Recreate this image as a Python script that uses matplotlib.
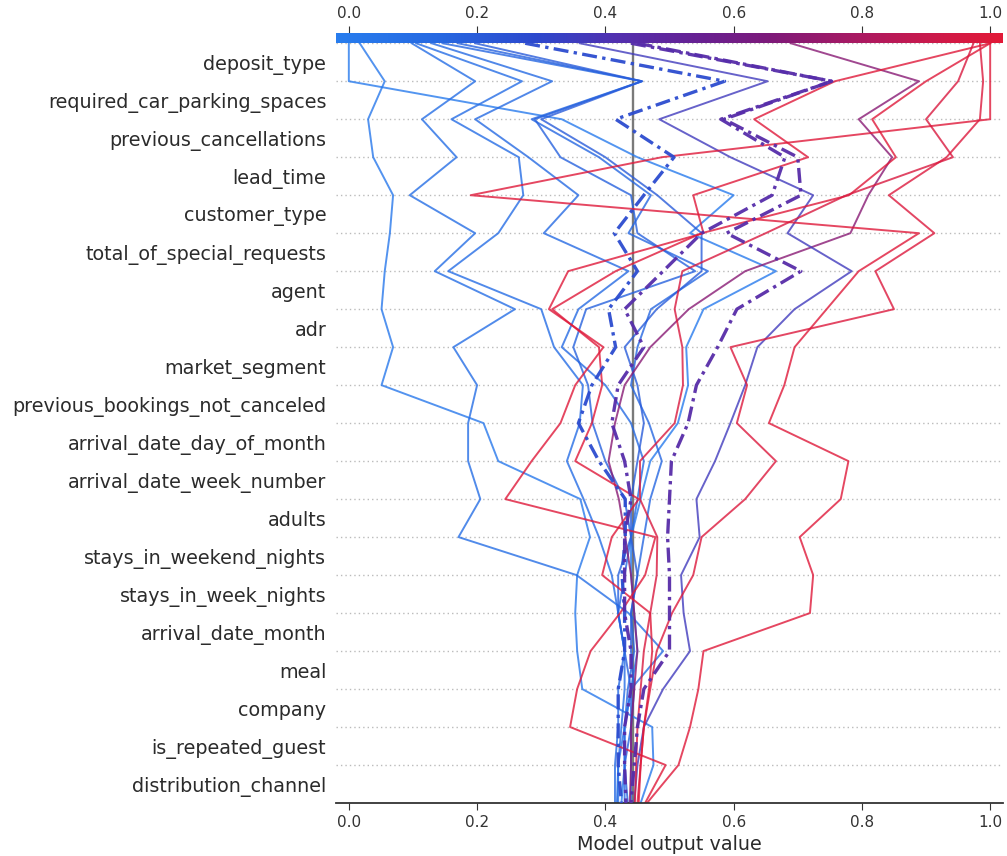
import numpy as np
import matplotlib
matplotlib.use("Agg")
import matplotlib.pyplot as plt
from matplotlib.colors import LinearSegmentedColormap, Normalize

# ---------------- data ----------------
features = ["deposit_type", "required_car_parking_spaces", "previous_cancellations",
            "lead_time", "customer_type", "total_of_special_requests", "agent", "adr",
            "market_segment", "previous_bookings_not_canceled", "arrival_date_day_of_month",
            "arrival_date_week_number", "adults", "stays_in_weekend_nights",
            "stays_in_week_nights", "arrival_date_month", "meal", "company",
            "is_repeated_guest", "distribution_channel"]

base_value = 0.443
x_ticks = [0.0, 0.2, 0.4, 0.6, 0.8, 1.0]

# cumulative model output at each feature boundary, listed from the top (final output) to the bottom
obs_b1 = [0.000, 0.000, 0.332, 0.450, 0.600, 0.532, 0.666, 0.553, 0.526, 0.529, 0.513, 0.470, 0.455, 0.440, 0.440, 0.445, 0.450, 0.440, 0.430, 0.430, 0.425]
obs_b2 = [0.017, 0.056, 0.030, 0.038, 0.069, 0.064, 0.056, 0.051, 0.069, 0.051, 0.210, 0.233, 0.361, 0.376, 0.356, 0.353, 0.356, 0.364, 0.473, 0.475, 0.455]
obs_b3 = [0.098, 0.197, 0.114, 0.168, 0.095, 0.197, 0.134, 0.259, 0.163, 0.200, 0.186, 0.186, 0.205, 0.171, 0.355, 0.436, 0.490, 0.440, 0.430, 0.420, 0.420]
obs_b4 = [0.105, 0.270, 0.160, 0.265, 0.272, 0.233, 0.155, 0.300, 0.320, 0.365, 0.360, 0.340, 0.366, 0.390, 0.410, 0.420, 0.430, 0.430, 0.425, 0.420, 0.418]
obs_b5 = [0.129, 0.317, 0.197, 0.280, 0.358, 0.304, 0.436, 0.358, 0.332, 0.400, 0.440, 0.460, 0.450, 0.440, 0.430, 0.420, 0.430, 0.420, 0.420, 0.415, 0.415]
obs_b6 = [0.146, 0.457, 0.285, 0.390, 0.471, 0.436, 0.560, 0.471, 0.450, 0.440, 0.468, 0.488, 0.470, 0.460, 0.450, 0.440, 0.445, 0.435, 0.430, 0.430, 0.430]
obs_b7 = [0.170, 0.457, 0.290, 0.330, 0.440, 0.450, 0.540, 0.370, 0.350, 0.373, 0.380, 0.400, 0.430, 0.440, 0.420, 0.420, 0.430, 0.440, 0.440, 0.430, 0.435]
obs_b8 = [0.197, 0.457, 0.300, 0.400, 0.481, 0.550, 0.550, 0.480, 0.430, 0.450, 0.460, 0.450, 0.440, 0.440, 0.450, 0.440, 0.440, 0.445, 0.440, 0.440, 0.440]
obs_d1 = [0.275, 0.586, 0.416, 0.507, 0.460, 0.414, 0.450, 0.405, 0.416, 0.379, 0.358, 0.390, 0.431, 0.431, 0.426, 0.430, 0.430, 0.420, 0.420, 0.420, 0.425]
obs_d2 = [0.450, 0.753, 0.585, 0.700, 0.705, 0.589, 0.705, 0.605, 0.575, 0.542, 0.529, 0.503, 0.500, 0.497, 0.500, 0.500, 0.500, 0.460, 0.450, 0.445, 0.440]
obs_d3 = [0.440, 0.753, 0.580, 0.680, 0.660, 0.550, 0.490, 0.430, 0.460, 0.420, 0.410, 0.430, 0.440, 0.430, 0.430, 0.430, 0.440, 0.440, 0.430, 0.430, 0.432]
obs_p1 = [0.689, 0.889, 0.795, 0.847, 0.810, 0.782, 0.618, 0.530, 0.470, 0.430, 0.415, 0.405, 0.421, 0.431, 0.440, 0.445, 0.450, 0.445, 0.440, 0.440, 0.438]
obs_p2 = [0.360, 0.653, 0.484, 0.595, 0.724, 0.684, 0.784, 0.695, 0.637, 0.618, 0.595, 0.571, 0.542, 0.547, 0.518, 0.522, 0.532, 0.490, 0.460, 0.450, 0.445]
obs_r1 = [1.000, 1.000, 1.000, 0.488, 0.190, 0.889, 0.795, 0.745, 0.695, 0.679, 0.655, 0.779, 0.767, 0.703, 0.724, 0.719, 0.553, 0.545, 0.532, 0.514, 0.465]
obs_r2 = [0.984, 0.989, 0.984, 0.932, 0.842, 0.913, 0.821, 0.850, 0.595, 0.621, 0.605, 0.666, 0.618, 0.550, 0.537, 0.504, 0.480, 0.470, 0.460, 0.455, 0.452]
obs_r3 = [1.000, 0.758, 0.632, 0.716, 0.537, 0.553, 0.342, 0.312, 0.397, 0.353, 0.330, 0.285, 0.244, 0.478, 0.462, 0.423, 0.377, 0.356, 0.345, 0.494, 0.462]
obs_r4 = [1.000, 0.900, 0.816, 0.853, 0.780, 0.550, 0.416, 0.317, 0.390, 0.395, 0.379, 0.353, 0.452, 0.410, 0.395, 0.470, 0.473, 0.468, 0.460, 0.455, 0.450]
obs_r5 = [0.974, 0.950, 0.900, 0.942, 0.776, 0.650, 0.520, 0.508, 0.520, 0.521, 0.508, 0.454, 0.454, 0.481, 0.480, 0.470, 0.460, 0.455, 0.450, 0.448, 0.446]

observations = [obs_b1, obs_b2, obs_b3, obs_b4, obs_b5, obs_b6, obs_b7, obs_b8,
                obs_p1, obs_p2, obs_r1, obs_r2, obs_r3, obs_r4, obs_r5,
                obs_d1, obs_d2, obs_d3]
highlighted = [False] * 15 + [True, True, True]

# ---------------- red/blue colormap matching the reference colour bar ----------------
cmap_stops = [(0.00, (40, 125, 238)), (0.15, (38, 105, 226)), (0.30, (45, 72, 205)),
              (0.42, (82, 48, 175)), (0.55, (104, 32, 145)), (0.65, (125, 26, 122)),
              (0.80, (175, 25, 95)), (0.92, (210, 25, 70)), (1.00, (226, 25, 55))]
cmap = LinearSegmentedColormap.from_list(
    "red_blue", [(p, tuple(v / 255 for v in c)) for p, c in cmap_stops])

# ---------------- figure ----------------
W, H = 1007, 856
fig = plt.figure(figsize=(W / 100, H / 100), dpi=100)
ax = fig.add_axes([336 / W, 53 / H, 667 / W, (803 - 33) / H])

xlim = (-0.02, 1.02)
n = len(features)
cb_h = 0.27
norm = Normalize(vmin=xlim[0], vmax=xlim[1])
levels = np.arange(n, -1, -1)

for i in range(1, n + 1):
    ax.axhline(i, color="#bbbbbb", lw=1.0, dashes=(1, 2.2), zorder=0)

ax.axvline(base_value, color="#7a7a7a", lw=1.7, zorder=1)

for vals, hl in zip(observations, highlighted):
    col = cmap(norm(vals[0]))
    if hl:
        ax.plot(vals, levels, color=col, lw=2.4, alpha=0.95,
                dashes=(4.5, 1.6, 1.0, 1.6), zorder=3)
    else:
        ax.plot(vals, levels, color=col, lw=1.4, alpha=0.8, zorder=2)

gradient = np.linspace(0, 1, 512).reshape(1, -1)
ax.imshow(gradient, extent=[xlim[0], xlim[1], n, n + cb_h], aspect="auto",
          cmap=cmap, zorder=5, interpolation="bilinear")

ax.set_xlim(xlim)
ax.set_ylim(0, n + cb_h)
ax.set_yticks(np.arange(n) + 0.5)
ax.set_yticklabels(features[::-1], fontsize=13.8, color="#2b2b2b")
ax.tick_params(axis="y", length=0, pad=7)
ax.set_xticks(x_ticks)
ax.set_xticklabels([f"{t:.1f}" for t in x_ticks], fontsize=11, color="#333333")
ax.tick_params(axis="x", top=True, labeltop=True, bottom=True, labelbottom=True,
               length=5, color="#333333")
for s in ["top", "left", "right"]:
    ax.spines[s].set_visible(False)
ax.spines["bottom"].set_color("#333333")
ax.spines["bottom"].set_linewidth(1.3)
ax.set_xlabel("Model output value", fontsize=13.8, color="#2b2b2b", labelpad=4)

fig.savefig("out.png", dpi=100)
